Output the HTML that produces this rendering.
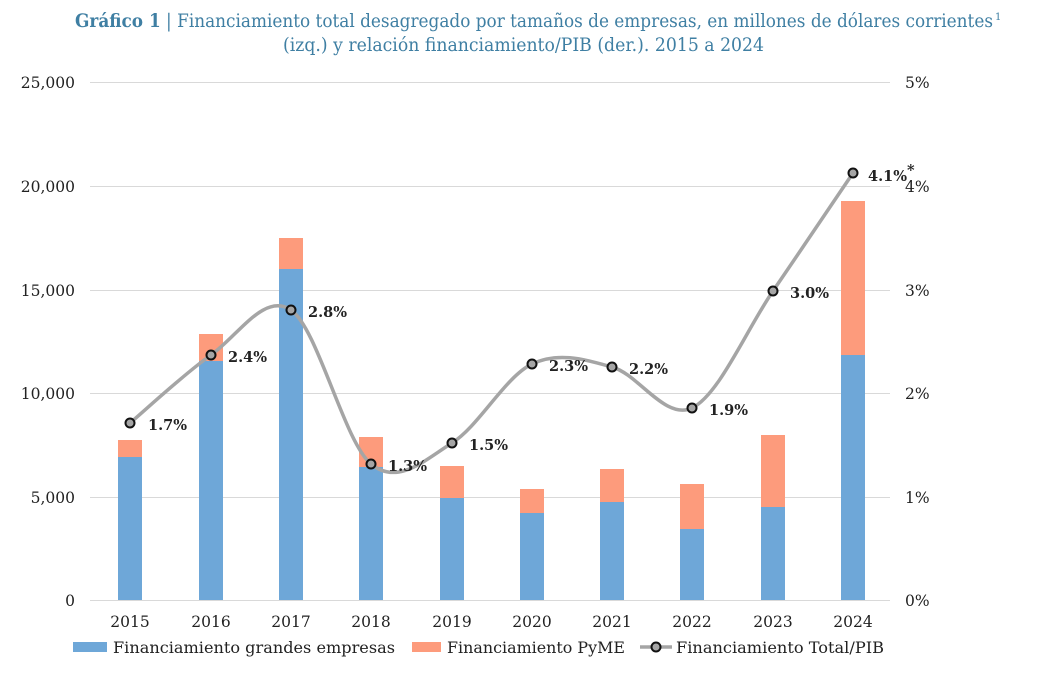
<!DOCTYPE html>
<html><head><meta charset="utf-8"><style>
body{margin:0;background:#fff;width:1037px;height:677px;overflow:hidden}
</style></head><body>
<svg width="1037" height="677" xmlns="http://www.w3.org/2000/svg" font-family="DejaVu Serif, Liberation Serif, serif">
<text x="75" y="27" font-size="18.5" fill="#3f7fa3" textLength="918" lengthAdjust="spacingAndGlyphs"><tspan font-weight="bold">Gráfico 1</tspan> | Financiamiento total desagregado por tamaños de empresas, en millones de dólares corrientes</text>
<text x="995" y="20" font-size="10" fill="#3f7fa3">1</text>
<text x="283" y="51" font-size="18.5" fill="#3f7fa3" textLength="481" lengthAdjust="spacingAndGlyphs">(izq.) y relación financiamiento/PIB (der.). 2015 a 2024</text>
<g stroke="#d9d9d9" stroke-width="1">
<line x1="90" x2="890" y1="82.5" y2="82.5"/><line x1="90" x2="890" y1="186.5" y2="186.5"/><line x1="90" x2="890" y1="290.5" y2="290.5"/><line x1="90" x2="890" y1="393.5" y2="393.5"/><line x1="90" x2="890" y1="497.5" y2="497.5"/><line x1="90" x2="890" y1="600.5" y2="600.5"/>
</g>
<g font-size="15.5" fill="#222" text-anchor="end">
<text x="75" y="88">25,000</text><text x="75" y="192">20,000</text><text x="75" y="296">15,000</text><text x="75" y="399">10,000</text><text x="75" y="503">5,000</text><text x="75" y="606">0</text>
</g>
<g font-size="15.5" fill="#222" text-anchor="start">
<text x="905" y="88">5%</text><text x="905" y="192">4%</text><text x="905" y="296">3%</text><text x="905" y="399">2%</text><text x="905" y="503">1%</text><text x="905" y="606">0%</text>
</g>
<g font-size="15.5" fill="#222" text-anchor="middle">
<text x="130" y="627">2015</text><text x="211" y="627">2016</text><text x="291" y="627">2017</text><text x="371" y="627">2018</text><text x="452" y="627">2019</text><text x="532" y="627">2020</text><text x="612" y="627">2021</text><text x="692" y="627">2022</text><text x="773" y="627">2023</text><text x="853" y="627">2024</text>
</g>
<g fill="#fd9b7c">
<rect x="118" y="440" width="24" height="17"/><rect x="199" y="334" width="24" height="27"/><rect x="279" y="238" width="24" height="31"/><rect x="359" y="437" width="24" height="30"/><rect x="440" y="466" width="24" height="32"/><rect x="520" y="489" width="24" height="24"/><rect x="600" y="469" width="24" height="33"/><rect x="680" y="484" width="24" height="45"/><rect x="761" y="435" width="24" height="72"/><rect x="841" y="201" width="24" height="154"/>
</g>
<g fill="#6ea7d8">
<rect x="118" y="457" width="24" height="143"/><rect x="199" y="361" width="24" height="239"/><rect x="279" y="269" width="24" height="331"/><rect x="359" y="467" width="24" height="133"/><rect x="440" y="498" width="24" height="102"/><rect x="520" y="513" width="24" height="87"/><rect x="600" y="502" width="24" height="98"/><rect x="680" y="529" width="24" height="71"/><rect x="761" y="507" width="24" height="93"/><rect x="841" y="355" width="24" height="245"/>
</g>
<path d="M130,423 C143.5,411.7 184.2,373.8 211,355 C237.8,336.2 264.3,291.8 291,310 C317.7,328.2 344.2,441.8 371,464 C397.8,486.2 425.2,459.7 452,443 C478.8,426.3 505.3,376.7 532,364 C558.7,351.3 585.3,359.7 612,367 C638.7,374.3 665.2,420.7 692,408 C718.8,395.3 746.2,330.2 773,291 C799.8,251.8 839.7,192.7 853,173" fill="none" stroke="#a5a5a5" stroke-width="3.5"/>
<g fill="#a5a5a5" stroke="#111" stroke-width="2">
<circle cx="130" cy="423" r="4.5"/><circle cx="211" cy="355" r="4.5"/><circle cx="291" cy="310" r="4.5"/><circle cx="371" cy="464" r="4.5"/><circle cx="452" cy="443" r="4.5"/><circle cx="532" cy="364" r="4.5"/><circle cx="612" cy="367" r="4.5"/><circle cx="692" cy="408" r="4.5"/><circle cx="773" cy="291" r="4.5"/><circle cx="853" cy="173" r="4.5"/>
</g>
<g font-size="14.5" font-weight="bold" fill="#222">
<text x="148" y="430">1.7%</text><text x="228" y="362">2.4%</text><text x="308" y="317">2.8%</text><text x="388" y="471">1.3%</text><text x="469" y="450">1.5%</text><text x="549" y="371">2.3%</text><text x="629" y="374">2.2%</text><text x="709" y="415">1.9%</text><text x="790" y="298">3.0%</text><text x="868" y="181">4.1%<tspan dy="-6">*</tspan></text>
</g>
<rect x="73" y="642" width="34" height="10" fill="#6ea7d8"/>
<text x="113" y="653" font-size="15.5" fill="#222" textLength="282" lengthAdjust="spacingAndGlyphs">Financiamiento grandes empresas</text>
<rect x="412" y="642" width="29" height="10" fill="#fd9b7c"/>
<text x="447" y="653" font-size="15.5" fill="#222" textLength="178" lengthAdjust="spacingAndGlyphs">Financiamiento PyME</text>
<line x1="640" x2="672" y1="647" y2="647" stroke="#a5a5a5" stroke-width="3.5"/>
<circle cx="656" cy="647" r="4.5" fill="#a5a5a5" stroke="#111" stroke-width="2"/>
<text x="676" y="653" font-size="15.5" fill="#222" textLength="208" lengthAdjust="spacingAndGlyphs">Financiamiento Total/PIB</text>
</svg>
</body></html>
